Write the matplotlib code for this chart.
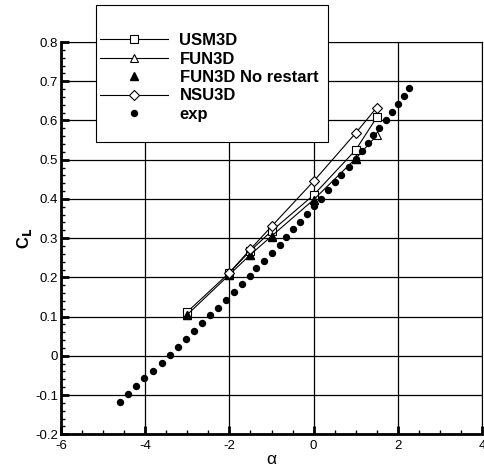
import matplotlib
matplotlib.use("Agg")
import matplotlib.pyplot as plt
from matplotlib.patches import Rectangle
from matplotlib.ticker import MultipleLocator

plt.rcParams['font.family'] = ['Liberation Sans', 'DejaVu Sans']
plt.rcParams['axes.unicode_minus'] = False

# CFD results
alpha_usm = [-3, -2, -1.5, -1, 0, 1, 1.5]
cl_usm = [0.112, 0.212, 0.268, 0.318, 0.410, 0.525, 0.608]

alpha_fun = [-3, -2, -1.5, -1, 0, 1, 1.5]
cl_fun = [0.105, 0.207, 0.258, 0.305, 0.398, 0.503, 0.562]

alpha_fun_nr = [-3, -2, -1.5, -1, 0, 1]
cl_fun_nr = [0.103, 0.207, 0.258, 0.303, 0.398, 0.503]

alpha_nsu = [-2, -1.5, -1, 0, 1, 1.5]
cl_nsu = [0.212, 0.272, 0.330, 0.445, 0.568, 0.633]

# wind tunnel data
alpha_exp = [-4.60, -4.41, -4.22, -4.02, -3.82, -3.61, -3.41, -3.23, -3.04, -2.84,
             -2.65, -2.45, -2.26, -2.07, -1.90, -1.70, -1.52, -1.36, -1.18, -0.98,
             -0.81, -0.66, -0.49, -0.32, -0.15, 0.01, 0.17, 0.34, 0.50, 0.66,
             0.83, 1.00, 1.15, 1.29, 1.42, 1.56, 1.71, 1.86, 2.00, 2.14, 2.27]
cl_exp = [-0.118, -0.098, -0.078, -0.057, -0.038, -0.018, 0.003, 0.023, 0.044, 0.064,
          0.083, 0.103, 0.122, 0.143, 0.163, 0.183, 0.203, 0.224, 0.241, 0.262,
          0.282, 0.302, 0.323, 0.341, 0.362, 0.381, 0.400, 0.422, 0.442, 0.462,
          0.482, 0.502, 0.523, 0.542, 0.563, 0.582, 0.602, 0.621, 0.641, 0.663, 0.682]

fig = plt.figure(figsize=(4.84, 4.72), dpi=100)
ax = fig.add_axes([0.126, 0.08, 0.87, 0.831])

ax.plot(alpha_usm, cl_usm, 'k-', lw=0.8, marker='s', ms=5.5, mfc='white', mec='k', mew=0.8, label='USM3D')
ax.plot(alpha_fun, cl_fun, 'k-', lw=0.8, marker='^', ms=6, mfc='white', mec='k', mew=0.8, label='FUN3D')
ax.plot(alpha_fun_nr, cl_fun_nr, ls='none', marker='^', ms=6, color='k', label='FUN3D No restart')
ax.plot(alpha_nsu, cl_nsu, 'k-', lw=0.8, marker='D', ms=5.5, mfc='white', mec='k', mew=0.8, label='NSU3D')
ax.plot(alpha_exp, cl_exp, ls='none', marker='o', ms=4.3, color='k', label='exp')

ax.set_xlim(-6, 4)
ax.set_ylim(-0.2, 0.8)
ax.xaxis.set_major_locator(MultipleLocator(2))
ax.xaxis.set_minor_locator(MultipleLocator(0.5))
ax.yaxis.set_minor_locator(MultipleLocator(0.02))
ax.set_yticks([-0.2, -0.1, 0, 0.1, 0.2, 0.3, 0.4, 0.5, 0.6, 0.7, 0.8])
ax.set_yticklabels(['-0.2', '-0.1', '0', '0.1', '0.2', '0.3', '0.4', '0.5', '0.6', '0.7', '0.8'])
ax.grid(True, which='major', color='k', lw=0.9)
ax.tick_params(which='major', direction='in', length=6, width=2, labelsize=9.5)
ax.tick_params(axis='y', which='major', pad=2)
ax.tick_params(axis='x', which='major', pad=4)
ax.tick_params(which='minor', direction='in', length=3, width=1)
for s in ['left', 'bottom']:
    ax.spines[s].set_linewidth(2)
for s in ['top', 'right']:
    ax.spines[s].set_linewidth(0.8)

ax.set_xlabel('α', fontsize=12.5, labelpad=0)
ax.set_ylabel('C$_\\mathbf{L}$', fontsize=12, fontweight='bold', labelpad=1)

# legend frame sits partly above the plot area
fig.patches.append(Rectangle((96 / 484, 1 - 142 / 472), 232 / 484, 137 / 472,
                             transform=fig.transFigure, fc='white', ec='k', lw=0.8, zorder=5))
leg = fig.legend(loc='upper left', bbox_to_anchor=(100 / 484, 1 - 33 / 472), frameon=False,
                 prop={'weight': 'bold', 'size': 12}, handlelength=4.05, handletextpad=0.72,
                 labelspacing=0.21, borderaxespad=0, borderpad=0)
leg.set_zorder(6)

fig.savefig('out.png', dpi=100)
